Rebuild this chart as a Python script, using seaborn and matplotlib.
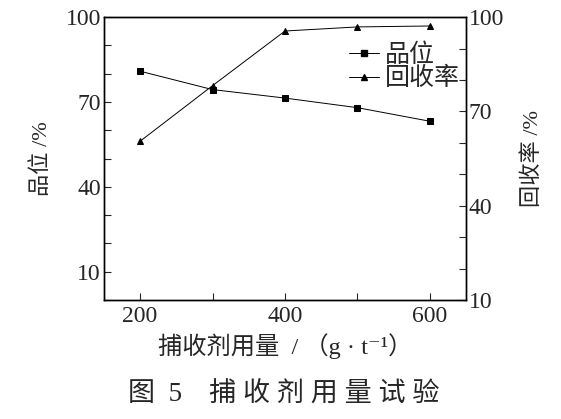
import matplotlib
matplotlib.use("Agg")
import matplotlib.pyplot as plt
from matplotlib.lines import Line2D
from matplotlib.ticker import MultipleLocator, FixedLocator
import pandas as pd
import seaborn as sns

# collector dosage test
dosage = [200, 300, 400, 500, 600]
grade = [80.9, 74.4, 71.4, 68.0, 63.2]
recovery = [60.5, 78.2, 95.6, 96.9, 97.2]

FONTS = ["Liberation Serif", "DejaVu Serif", "Noto Sans CJK SC"]

sns.set_style("ticks")
plt.rcParams["font.family"] = FONTS
plt.rcParams["axes.unicode_minus"] = False

df = pd.DataFrame({"dosage": dosage, "grade": grade, "recovery": recovery})

fig = plt.figure(figsize=(5.61, 4.19), dpi=100)
ax = fig.add_axes([0.185, 0.284, 0.646, 0.675])
ax2 = ax.twinx()

sns.lineplot(data=df, x="dosage", y="grade", ax=ax, color="black", lw=0.7,
             marker="s", markersize=5, markeredgecolor="black", legend=False)
sns.lineplot(data=df, x="dosage", y="recovery", ax=ax2, color="black", lw=0.7,
             marker="^", markersize=5, markeredgecolor="black", legend=False)

ax.set_xlim(150, 650)
ax.set_ylim(0, 100)
ax2.set_ylim(10, 100)

ax.xaxis.set_major_locator(FixedLocator([200, 400, 600]))
ax.xaxis.set_minor_locator(FixedLocator([300, 500]))
ax.yaxis.set_major_locator(FixedLocator([10, 40, 70, 100]))
ax.yaxis.set_minor_locator(MultipleLocator(10))
ax2.yaxis.set_major_locator(FixedLocator([10, 40, 70, 100]))
ax2.yaxis.set_minor_locator(MultipleLocator(10))

for a in (ax, ax2):
    a.tick_params(which="both", direction="in", width=0.8, length=5,
                  labelsize=17)
    for s in a.spines.values():
        s.set_linewidth(1.0)
        s.set_color("black")
ax.tick_params(axis="x", pad=4)
ax.tick_params(axis="y", pad=2)
ax2.tick_params(axis="y", pad=2)

ax.set_xlabel("捕收剂用量  / （g · t⁻¹）", fontsize=17.5, labelpad=5)
ax.set_ylabel("品位 /%", fontsize=16, labelpad=10)
ax2.set_ylabel("回收率 /%", fontsize=16, rotation=90, labelpad=13)

handles = [
    Line2D([], [], color="black", lw=0.7, marker="s", markersize=4),
    Line2D([], [], color="black", lw=0.7, marker="^", markersize=4),
]
ax.legend(handles, ["品位", "回收率"], loc="upper right",
          bbox_to_anchor=(1.025, 0.96), frameon=False, fontsize=18,
          handlelength=1.2, handletextpad=0.25, labelspacing=0.0,
          borderaxespad=0.2)

fig.text(0.505, 0.057, "图  5    捕 收 剂 用 量 试 验", ha="center",
         va="center", fontsize=19.5)

fig.savefig("out.png", dpi=100)
